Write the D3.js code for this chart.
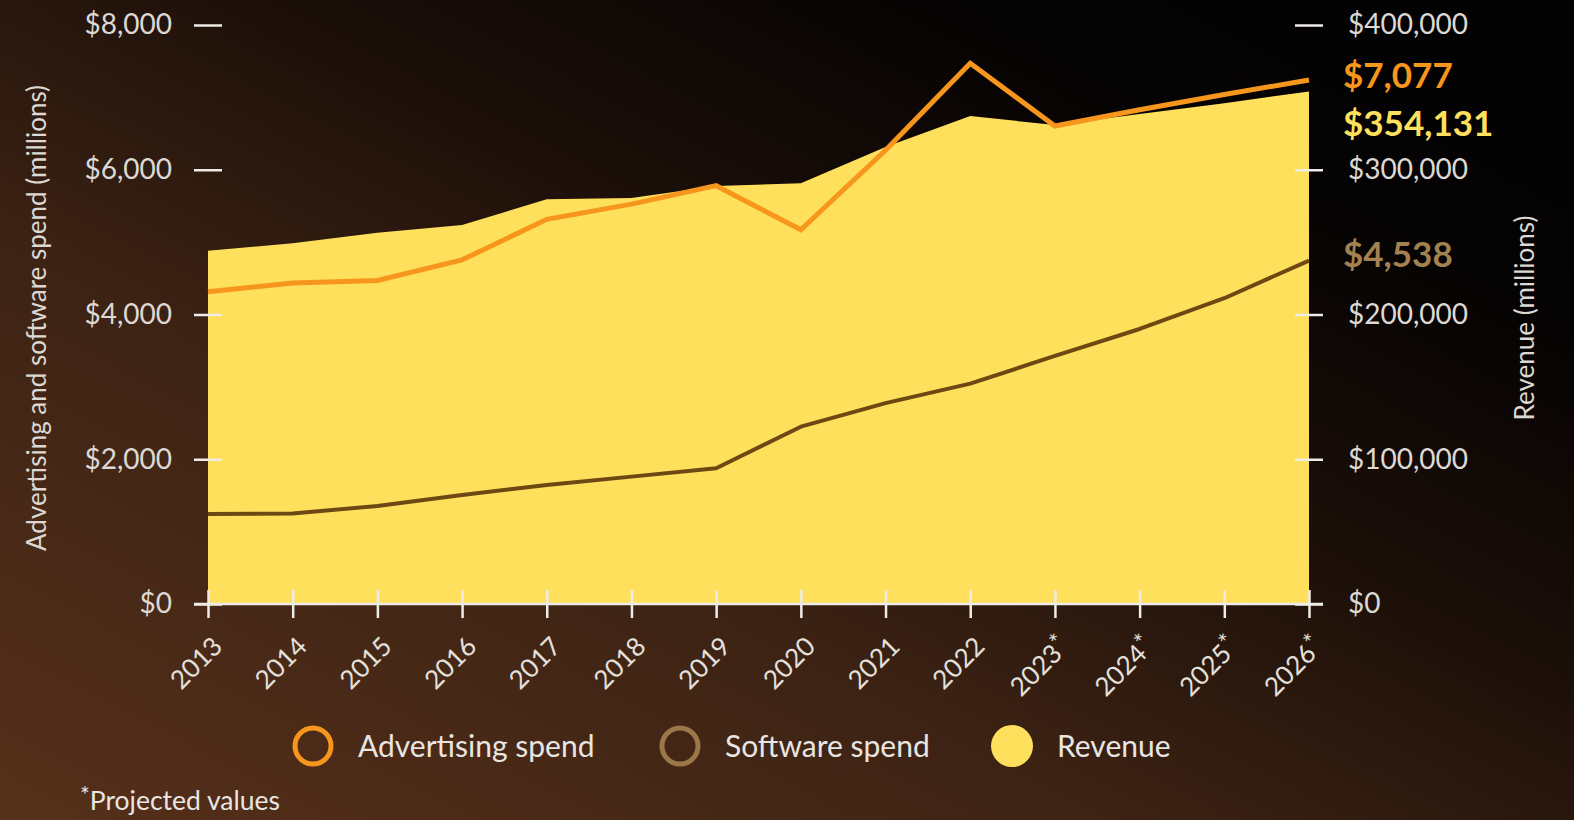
<!DOCTYPE html>
<html>
<head>
<meta charset="utf-8">
<script src="https://cdn.jsdelivr.net/npm/d3@7"></script>
<style>
  html, body { margin: 0; padding: 0; background: #140b06; }
  svg { display: block; }
  text { font-family: Lato, "Open Sans", sans-serif; }
</style>
</head>
<body>
<svg id="chart" width="1574" height="820"></svg>
<script>
// ---- data ----
const years = ["2013","2014","2015","2016","2017","2018","2019","2020","2021","2022","2023","2024","2025","2026"];
const projected = [false,false,false,false,false,false,false,false,false,false,true,true,true,true];
const advertisingSpend = [4315, 4435, 4470, 4755, 5315, 5525, 5780, 5170, 6270, 7470, 6605, 6830, 7040, 7240];
const softwareSpend = [1245, 1250, 1355, 1505, 1645, 1760, 1875, 2450, 2775, 3045, 3427, 3800, 4225, 4745];
const revenue = [244100, 249200, 256500, 261800, 279600, 280500, 288800, 290700, 315700, 337100, 330900, 338600, 346000, 354131];
const leftTicks = [0, 2000, 4000, 6000, 8000];
const rightTicks = [0, 100000, 200000, 300000, 400000];
const endLabels = [
  { text: "$7,077", key: "ad" },
  { text: "$354,131", key: "rev" },
  { text: "$4,538", key: "sw" }
];
const legendItems = [
  { label: "Advertising spend", key: "ad" },
  { label: "Software spend", key: "sw" },
  { label: "Revenue", key: "rev" }
];

const colors = { ad: "#f7961c", sw: "#6d4812", rev: "#ffe05c", swLegend: "#9c7849", swLabel: "#a4824f", text: "#e9e5e1" };

const svg = d3.select("#chart");
const W = 1574, H = 820;

// background gradient
const defs = svg.append("defs");
const grad = defs.append("linearGradient").attr("id", "bg")
  .attr("x1", 0).attr("y1", 1).attr("x2", 1).attr("y2", 0);
grad.append("stop").attr("offset", 0).attr("stop-color", "#56301a");
grad.append("stop").attr("offset", 0.35).attr("stop-color", "#3d2314");
grad.append("stop").attr("offset", 0.6).attr("stop-color", "#1a0e08");
grad.append("stop").attr("offset", 0.8).attr("stop-color", "#050303");
grad.append("stop").attr("offset", 1).attr("stop-color", "#030202");
svg.append("rect").attr("width", W).attr("height", H).attr("fill", "url(#bg)");

const x = d3.scalePoint().domain(years).range([208, 1309]);
const yL = d3.scaleLinear().domain([0, 8000]).range([604, 25]);
const yR = d3.scaleLinear().domain([0, 400000]).range([604, 25]);

// revenue area
const area = d3.area()
  .x((d, i) => x(years[i]))
  .y0(yR(0))
  .y1(d => yR(d));
svg.append("path").datum(revenue).attr("d", area).attr("fill", colors.rev);

// lines
const line = d3.line().x((d, i) => x(years[i])).y(d => yL(d));
svg.append("path").datum(advertisingSpend).attr("d", line)
  .attr("fill", "none").attr("stroke", colors.ad).attr("stroke-width", 5).attr("stroke-linejoin", "miter");
svg.append("path").datum(softwareSpend).attr("d", line)
  .attr("fill", "none").attr("stroke", colors.sw).attr("stroke-width", 4).attr("stroke-linejoin", "round");

// axes
const fmt = d => "$" + d3.format(",")(d);
const axisColor = "#efebe7";

const gL = svg.append("g").attr("transform", "translate(222,0)")
  .call(d3.axisLeft(yL).tickValues(leftTicks).tickFormat(fmt).tickSize(28).tickPadding(22));
const gR = svg.append("g").attr("transform", "translate(1295,0)")
  .call(d3.axisRight(yR).tickValues(rightTicks).tickFormat(fmt).tickSize(28).tickPadding(25));
[gL, gR].forEach(g => {
  g.select(".domain").remove();
  g.selectAll(".tick line").attr("stroke", axisColor).attr("stroke-width", 2.5);
  g.selectAll(".tick text").attr("fill", "#dcd8d4").attr("font-size", 28)
    .attr("font-family", "Lato, sans-serif");
});

// x axis baseline
svg.append("line").attr("x1", 194).attr("x2", 1323).attr("y1", yL(0)).attr("y2", yL(0))
  .attr("stroke", axisColor).attr("stroke-width", 2.5);
const gX = svg.append("g").attr("transform", `translate(0,${yL(0) - 14})`)
  .call(d3.axisBottom(x).tickSize(28).tickSizeOuter(0).tickFormat(""));
gX.select(".domain").remove();
gX.selectAll(".tick line").attr("stroke", axisColor).attr("stroke-width", 2.5);

// x labels rotated
const xl = svg.append("g").selectAll("text").data(years).join("text")
  .attr("transform", d => `translate(${x(d) + 16},${648}) rotate(-45)`)
  .attr("text-anchor", "end")
  .attr("fill", "#e4e0dc").attr("font-size", 26);
xl.each(function(d, i) {
  const t = d3.select(this);
  t.append("tspan").text(d);
  if (projected[i]) t.append("tspan").attr("dy", -6).attr("font-size", 24).text("*");
});

// axis titles
svg.append("text").attr("transform", "translate(46,318) rotate(-90)")
  .attr("text-anchor", "middle").attr("fill", "#dcd8d4").attr("font-size", 26)
  .text("Advertising and software spend (millions)");
svg.append("text").attr("transform", "translate(1534,318) rotate(-90)")
  .attr("text-anchor", "middle").attr("fill", "#dcd8d4").attr("font-size", 26)
  .text("Revenue (millions)");

// end value labels
const endPos = { ad: 88, rev: 136, sw: 267 };
const endCol = { ad: colors.ad, rev: colors.rev, sw: colors.swLabel };
svg.append("g").selectAll("text").data(endLabels).join("text")
  .attr("x", 1343).attr("y", d => endPos[d.key])
  .attr("fill", d => endCol[d.key]).attr("font-size", 35).attr("font-weight", 700)
  .text(d => d.text);

// legend
const legX = { ad: 313, sw: 680, rev: 1012 };
const leg = svg.append("g").selectAll("g").data(legendItems).join("g")
  .attr("transform", d => `translate(${legX[d.key]},746)`);
leg.append("circle").attr("r", d => d.key === "rev" ? 21 : 18)
  .attr("fill", d => d.key === "rev" ? colors.rev : "none")
  .attr("stroke", d => d.key === "ad" ? colors.ad : d.key === "sw" ? colors.swLegend : "none")
  .attr("stroke-width", 5);
leg.append("text").attr("x", 45).attr("y", 11)
  .attr("fill", colors.text).attr("font-size", 30).text(d => d.label);

// footnote
const fn = svg.append("text").attr("x", 80).attr("y", 810).attr("fill", colors.text).attr("font-size", 26.5);
fn.append("tspan").attr("dy", -7).attr("font-size", 23).text("*");
fn.append("tspan").attr("dy", 7).text("Projected values");
</script>
</body>
</html>
